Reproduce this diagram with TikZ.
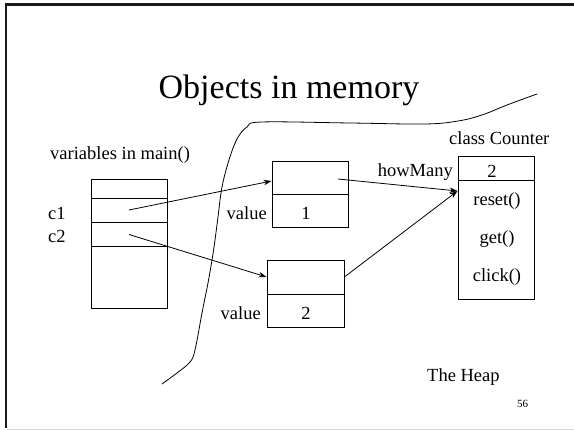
\documentclass[tikz,border=0pt]{standalone}
\usepackage{fontspec}
\setmainfont{Liberation Serif}
\usetikzlibrary{arrows.meta}
\begin{document}
\begin{tikzpicture}[x=1pt,y=-1pt,
  lbl/.style={inner sep=0pt,font=\fontsize{18.5}{20}\selectfont},
  cell/.style={draw,line width=0.8pt,inner sep=0pt,minimum width=#1},
  ptr/.style={line width=0.8pt,-{Stealth[length=8pt,width=5.5pt]}},
  wire/.style={line width=0.8pt}]
\useasboundingbox (0,0) rectangle (574,430);
% slide frame
\draw[line width=2.4pt,black!90] (6,3.5) -- (6,428);
\draw[line width=2.4pt,black!90] (4.8,4.5) -- (574,4.5);
\draw[line width=0.8pt,black!15] (7,429.3) -- (574,429.3);
% title
\node[inner sep=0pt,anchor=base,font=\fontsize{34}{37}\selectfont] (title) at (289,99) {Objects in memory};
% stack frame of main
\node[lbl,anchor=base west] (varlbl) at (50,160) {variables in main()};
\node[cell=76pt,minimum height=129pt] (stack) at (129,243.5) {};
\node[cell=76pt,minimum height=24pt] (c1cell) at (129,210) {};
\node[cell=76pt,minimum height=24.5pt] (c2cell) at (129,234.5) {};
\node[lbl,anchor=base west] (c1) at (48,220) {c1};
\node[lbl,anchor=base west] (c2) at (48,243) {c2};
% object 1
\node[cell=76pt,minimum height=33pt] (b1top) at (310,177.5) {};
\node[cell=76pt,minimum height=33pt] (b1bot) at (310,210.5) {};
\node[lbl,anchor=base] (one) at (306,220) {1};
\node[lbl,anchor=base east] (val1) at (267,220) {value};
% object 2
\node[cell=77pt,minimum height=34pt] (b2top) at (305.5,277) {};
\node[cell=77pt,minimum height=33pt] (b2bot) at (305.5,310.5) {};
\node[lbl,anchor=base] (two) at (306,320) {2};
\node[lbl,anchor=base east] (val2) at (261,320) {value};
% class Counter
\node[lbl,anchor=base west] (cls) at (449,145) {class Counter};
\node[cell=76pt,minimum height=143pt] (counter) at (496,227.5) {};
\node[cell=76pt,minimum height=24pt] (ctop) at (496,168) {};
\node[lbl,anchor=base] (hmval) at (492,178) {2};
\node[lbl,anchor=base east] (hm) at (453,177) {howMany};
\node[lbl,anchor=base] (reset) at (497,206) {reset()};
\node[lbl,anchor=base] (get) at (497,244) {get()};
\node[lbl,anchor=base] (click) at (497,282) {click()};
\coordinate (tgt) at (457.5,191);
\coordinate (b1src) at (338,179);
% heap label and page number
\node[lbl,anchor=base west] (heap) at (427,382) {The Heap};
\node[inner sep=0pt,anchor=base west,font=\fontsize{11}{12}\selectfont] (pg) at (517,408) {56};
% references
\draw[ptr] (c1cell.center) -- (b1top.west |- 0,181);
\draw[ptr] (c2cell.center) -- (b2top.west);
\draw[ptr] (b1src) -- (tgt);
\draw[ptr] (b2top.east) -- (tgt);
% heap boundary
\draw[wire,line cap=round] plot[smooth,tension=0.6] coordinates {
 (162,384) (177,373) (190,362) (195,350) (202,313) (208,283) (212,260)
 (215,240) (218,217) (222,187) (229,160) (237,139) (247,127) (262,122)
 (350,123) (425,124) (458,121) (482,115) (507,105) (537,94)};
\end{tikzpicture}
\end{document}
